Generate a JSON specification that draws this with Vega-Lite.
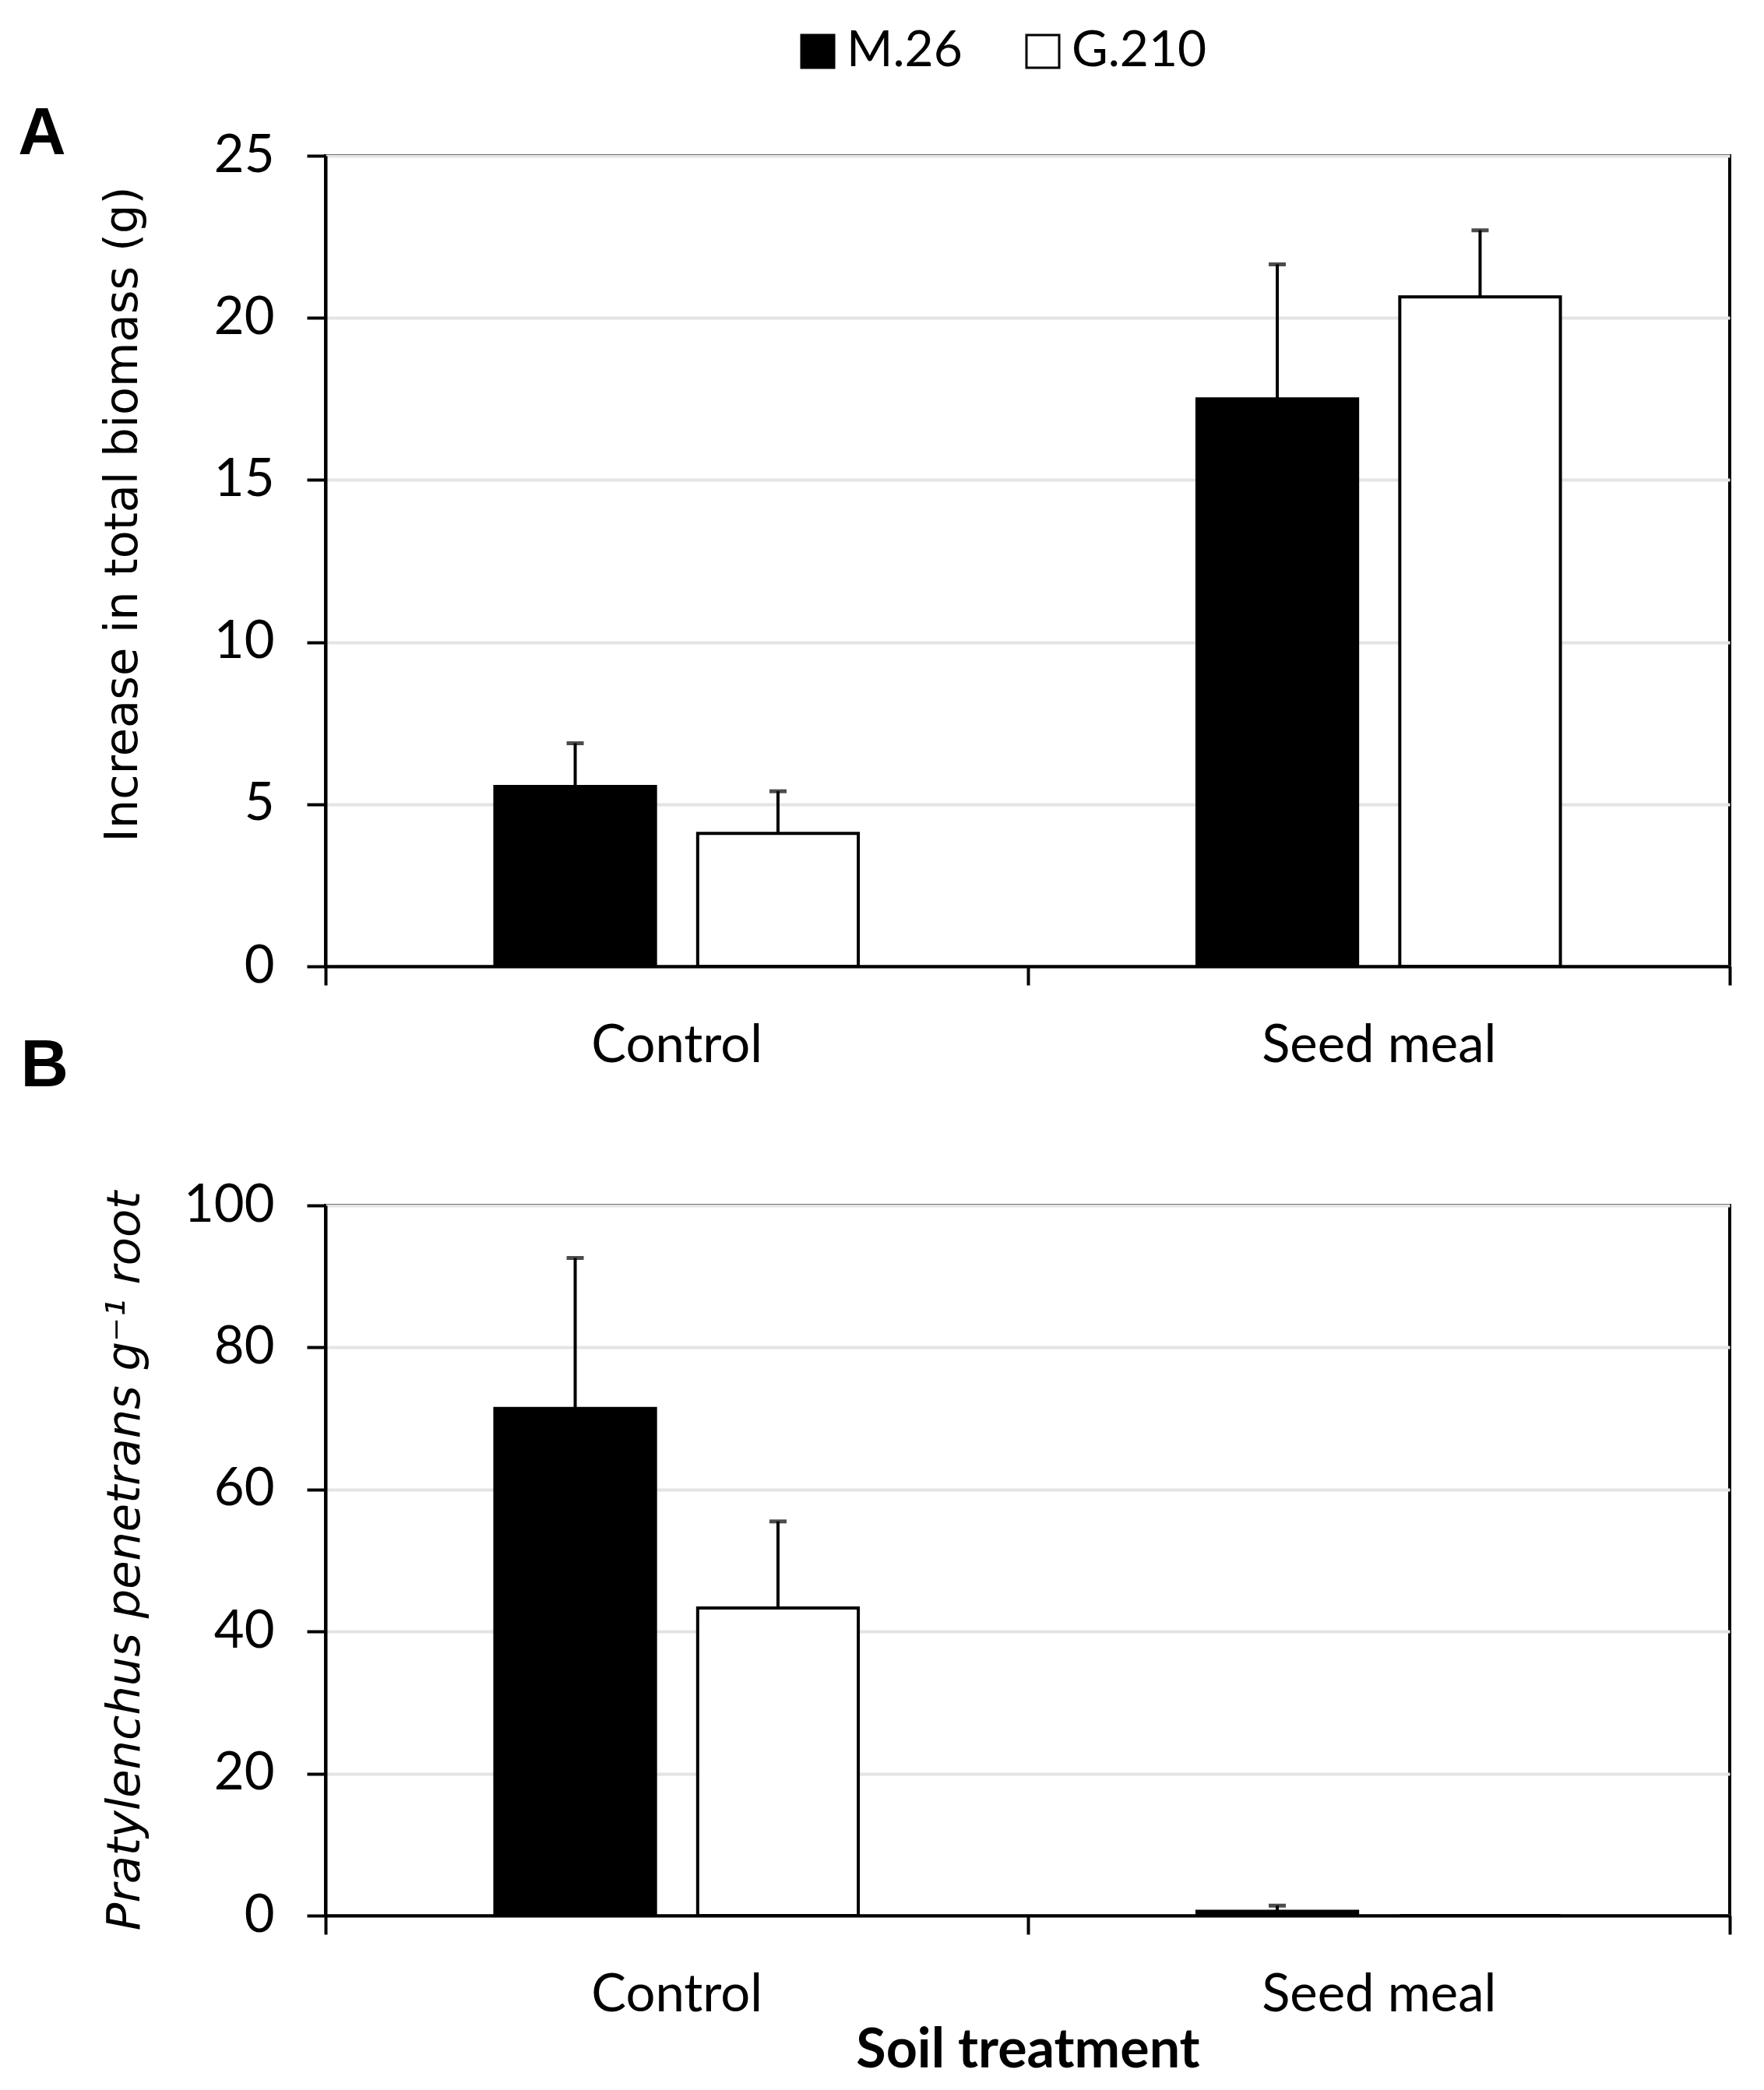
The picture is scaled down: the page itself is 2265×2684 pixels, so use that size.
{
  "$schema": "https://vega.github.io/schema/vega-lite/v6.json",
  "background": "white",
  "padding": {"left": 21, "top": 34, "right": 46, "bottom": 20},
  "datasets": {
    "biomass": [
      {"treatment": "Control", "rootstock": "M.26", "mean": 5.55, "upper": 6.88},
      {"treatment": "Control", "rootstock": "G.210", "mean": 4.1, "upper": 5.4},
      {"treatment": "Seed meal", "rootstock": "M.26", "mean": 17.5, "upper": 21.65},
      {"treatment": "Seed meal", "rootstock": "G.210", "mean": 20.65, "upper": 22.7}
    ],
    "nematodes": [
      {"treatment": "Control", "rootstock": "M.26", "mean": 71.4, "upper": 92.6},
      {"treatment": "Control", "rootstock": "G.210", "mean": 43.3, "upper": 55.5},
      {"treatment": "Seed meal", "rootstock": "M.26", "mean": 0.6, "upper": 1.4},
      {"treatment": "Seed meal", "rootstock": "G.210", "mean": 0, "upper": null}
    ]
  },
  "config": {
    "view": {"stroke": "black", "strokeWidth": 4},
    "axis": {
      "domainColor": "black",
      "domainWidth": 4,
      "tickColor": "black",
      "tickWidth": 4,
      "tickSize": 24,
      "labelFont": "Lato",
      "labelFontSize": 67,
      "labelColor": "black",
      "labelLimit": 0,
      "titleColor": "black"
    },
    "axisY": {
      "gridColor": "#e4e4e4",
      "gridWidth": 4,
      "labelPadding": 42,
      "titleFont": "DejaVu Sans",
      "titleFontSize": 59,
      "titleFontWeight": "normal"
    },
    "axisX": {
      "grid": false,
      "labelAngle": 0,
      "labelPadding": 45,
      "tickBand": "extent",
      "titleFont": "Lato",
      "titleFontSize": 70,
      "titleFontWeight": "bold"
    },
    "title": {
      "font": "Liberation Sans",
      "fontSize": 85,
      "fontWeight": "bold",
      "color": "black",
      "anchor": "start",
      "frame": "bounds"
    },
    "legend": {
      "orient": "none",
      "legendX": 600,
      "legendY": -166,
      "direction": "horizontal",
      "title": null,
      "symbolType": "square",
      "symbolSize": 1764,
      "symbolStrokeColor": "black",
      "symbolStrokeWidth": 3,
      "labelFont": "Lato",
      "labelFontSize": 64,
      "labelColor": "black",
      "labelLimit": 0,
      "labelOffset": 5,
      "columnPadding": 71
    }
  },
  "bounds": "flush",
  "spacing": 307,
  "vconcat": [
    {
      "title": {"text": "A", "dx": -105, "offset": -117, "baseline": "alphabetic"},
      "width": 1803,
      "height": 1041,
      "data": {"name": "biomass"},
      "encoding": {
        "x": {
          "field": "treatment",
          "type": "nominal",
          "title": null,
          "sort": ["Control", "Seed meal"],
          "scale": {"paddingInner": 0, "paddingOuter": 0}
        },
        "xOffset": {
          "field": "rootstock",
          "type": "nominal",
          "sort": ["M.26", "G.210"],
          "scale": {"paddingInner": 0.208, "paddingOuter": 0.835}
        }
      },
      "layer": [
        {
          "mark": {"type": "bar", "stroke": "black", "strokeWidth": 4},
          "encoding": {
            "y": {
              "field": "mean",
              "type": "quantitative",
              "title": "Increase in total biomass (g)",
              "scale": {"domain": [0, 25], "nice": false, "padding": 0},
              "axis": {"values": [0, 5, 10, 15, 20, 25], "titlePadding": 87, "titleY": 460}
            },
            "fill": {
              "field": "rootstock",
              "type": "nominal",
              "sort": ["M.26", "G.210"],
              "scale": {"domain": ["M.26", "G.210"], "range": ["black", "white"]}
            }
          }
        },
        {
          "mark": {"type": "rule", "color": "black", "strokeWidth": 4},
          "encoding": {
            "y": {"field": "mean", "type": "quantitative"},
            "y2": {"field": "upper"}
          }
        },
        {
          "mark": {"type": "tick", "color": "black", "size": 22, "thickness": 5},
          "encoding": {
            "y": {"field": "upper", "type": "quantitative"}
          }
        }
      ]
    },
    {
      "title": {"text": "B", "dx": -105, "offset": 34, "baseline": "alphabetic"},
      "width": 1803,
      "height": 912,
      "data": {"name": "nematodes"},
      "encoding": {
        "x": {
          "field": "treatment",
          "type": "nominal",
          "title": "Soil treatment",
          "sort": ["Control", "Seed meal"],
          "scale": {"paddingInner": 0, "paddingOuter": 0},
          "axis": {"titlePadding": 4}
        },
        "xOffset": {
          "field": "rootstock",
          "type": "nominal",
          "sort": ["M.26", "G.210"],
          "scale": {"paddingInner": 0.208, "paddingOuter": 0.835}
        }
      },
      "layer": [
        {
          "mark": {"type": "bar", "stroke": "black", "strokeWidth": 4},
          "encoding": {
            "y": {
              "field": "mean",
              "type": "quantitative",
              "title": "Pratylenchus penetrans g⁻¹ root",
              "scale": {"domain": [0, 100], "nice": false, "padding": 0},
              "axis": {"values": [0, 20, 40, 60, 80, 100], "titlePadding": 45, "titleFontStyle": "italic"}
            },
            "fill": {
              "field": "rootstock",
              "type": "nominal",
              "sort": ["M.26", "G.210"],
              "scale": {"domain": ["M.26", "G.210"], "range": ["black", "white"]}
            }
          }
        },
        {
          "mark": {"type": "rule", "color": "black", "strokeWidth": 4},
          "encoding": {
            "y": {"field": "mean", "type": "quantitative"},
            "y2": {"field": "upper"}
          }
        },
        {
          "mark": {"type": "tick", "color": "black", "size": 22, "thickness": 5},
          "encoding": {
            "y": {"field": "upper", "type": "quantitative"}
          }
        }
      ]
    }
  ]
}
